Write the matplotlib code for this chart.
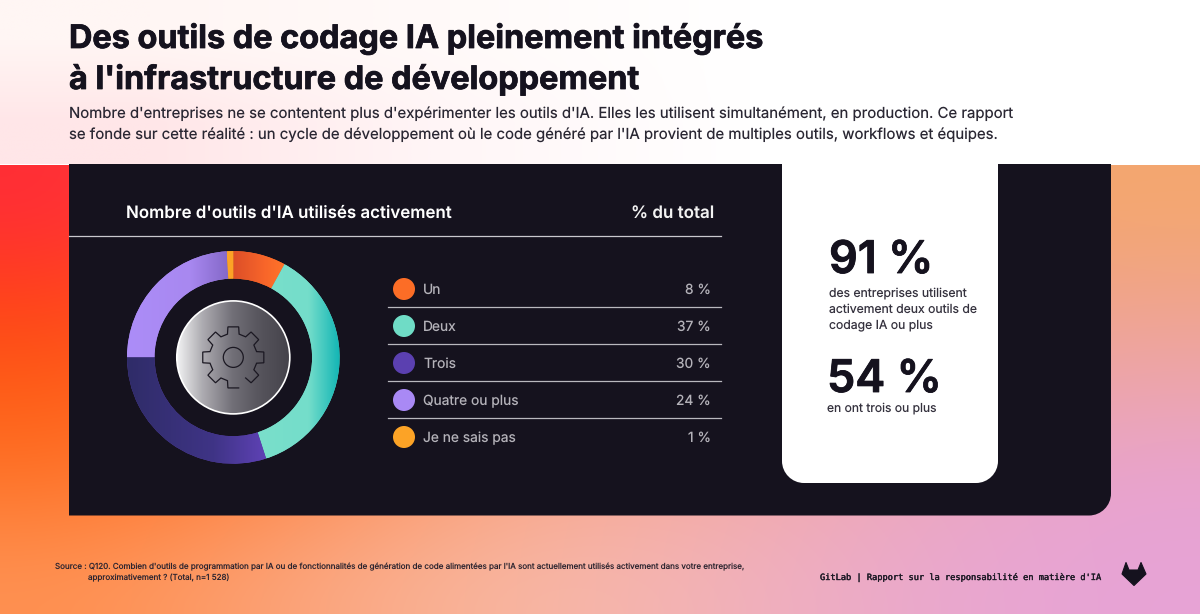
import numpy as np
import matplotlib
matplotlib.use("Agg")
import matplotlib.pyplot as plt
import matplotlib.patheffects as pe
from matplotlib.colors import LinearSegmentedColormap, to_rgb
from matplotlib.patches import Circle, PathPatch, Polygon
from matplotlib.path import Path

# Survey results
categories = ["Un", "Deux", "Trois", "Quatre ou plus", "Je ne sais pas"]
shares = [8, 37, 30, 24, 1]
swatches = ["#FC6D26", "#6FDCC6", "#5B40B0", "#A989F5", "#FCA326"]
ring_shades = [["#DC4E28", "#F8662A", "#FF7429"],
               ["#7ADFCB", "#74DDCA", "#12B5B5"],
               ["#2F2C68", "#3F3486", "#5F42B6"],
               ["#AC8DF8", "#A888F0", "#8468C8"],
               ["#FCA326", "#FCA326", "#FCA326"]]

title_lines = ["Des outils de codage IA pleinement intégrés",
               "à l'infrastructure de développement"]
intro_lines = ["Nombre d'entreprises ne se contentent plus d'expérimenter les outils d'IA. Elles les utilisent simultanément, en production. Ce rapport",
               "se fonde sur cette réalité : un cycle de développement où le code généré par l'IA provient de multiples outils, workflows et équipes."]
table_head = "Nombre d'outils d'IA utilisés activement"
table_unit = "% du total"
stat_one = "91 %"
stat_one_text = ["des entreprises utilisent", "activement deux outils de", "codage IA ou plus"]
stat_two = "54 %"
stat_two_text = "en ont trois ou plus"
source_lines = ["Source : Q120. Combien d'outils de programmation par IA ou de fonctionnalités de génération de code alimentées par l'IA sont actuellement utilisés activement dans votre entreprise,",
                "approximativement ? (Total, n=1\u00a0528)"]
brand_line = "GitLab | Rapport sur la responsabilité en matière d'IA"

INK = "#15121E"
W, H = 1200, 614
px = 0.72  # points per pixel at 100 dpi

plt.rcParams["font.family"] = ["Inter", "DejaVu Sans"]
plt.rcParams["text.hinting"] = "no_hinting"
plt.rcParams["text.hinting_factor"] = 1
fig = plt.figure(figsize=(W / 100, H / 100), dpi=100)
ax = fig.add_axes([0, 0, 1, 1])

# Page wash: coarse colour grid smoothed into a soft gradient
wash = np.array([[to_rgb(c) for c in row] for row in [
    ["#FF2C36", "#FF5A3C", "#FB8048", "#F79A5C", "#F5A468", "#F4A770"],
    ["#FF4118", "#FF6A38", "#FA8C5C", "#F79C74", "#F3A283", "#F0A48C"],
    ["#FF5C14", "#FF7C3C", "#FB9A70", "#F6A48C", "#F0A59E", "#ECA5B0"],
    ["#FF7428", "#FD8C50", "#F9A888", "#F4ABA4", "#ECA7BC", "#E8A3D0"],
    ["#FF9050", "#FBA47C", "#F9B8A0", "#F3B3B6", "#EAA9CC", "#E7A3D6"],
]])
ax.imshow(wash, extent=(0, W, H, 165), interpolation="bicubic", aspect="auto", zorder=0)

# Header band, fading from a blush at the left into white
band = np.array([[to_rgb(c) for c in row] for row in [
    ["#FFF6F4", "#FFFAF9", "#FFFFFF", "#FFFFFF"],
    ["#FFE6E8", "#FFF6F7", "#FFFFFF", "#FFFFFF"],
]])
ax.imshow(band, extent=(0, W, 164.5, 0), interpolation="bilinear", aspect="auto", zorder=5)
ax.set_xlim(0, W)
ax.set_ylim(H, 0)
ax.axis("off")


def panel(x0, x1, y0, y1, r_left, r_right, color, z):
    k = 0.45
    verts = [(x0, y0), (x1, y0), (x1, y1 - r_right), (x1, y1 - r_right * k), (x1 - r_right * k, y1),
             (x1 - r_right, y1), (x0 + r_left, y1), (x0 + r_left * k, y1), (x0, y1 - r_left * k),
             (x0, y1 - r_left), (x0, y0)]
    codes = [Path.MOVETO, Path.LINETO, Path.LINETO, Path.CURVE4, Path.CURVE4, Path.CURVE4,
             Path.LINETO, Path.CURVE4, Path.CURVE4, Path.CURVE4, Path.CLOSEPOLY]
    ax.add_patch(PathPatch(Path(verts, codes), fc=color, ec="none", zorder=z))


panel(69, 1111, 160, 515.5, 0.01, 22, INK, 2)
panel(782, 998, 160, 483, 22, 22, "white", 3)

# Headline and introduction
heavy = [pe.withStroke(linewidth=0.55, foreground=INK)]
for line, base in zip(title_lines, (48, 89)):
    ax.text(69, base, line, fontsize=32.4 * px, fontweight="bold", color=INK, va="baseline", zorder=6,
            path_effects=heavy)
for line, base in zip(intro_lines, (118, 139)):
    ax.text(69, base, line, fontsize=14.95 * px, color="#2A2733", va="baseline", zorder=6)

# Table header and rows
ax.text(126, 218, table_head, fontsize=16.9 * px, fontweight="semibold", color="white", va="baseline", zorder=6)
ax.text(714, 218, table_unit, fontsize=17 * px, fontweight="semibold", color="#F2F2F2", ha="right",
        va="baseline", zorder=6)
ax.plot([69, 721], [236.3, 236.3], color="#C9C8CE", lw=0.9, zorder=4)

row_y = [289 + 37 * i for i in range(len(categories))]
for i, (name, value, swatch, y) in enumerate(zip(categories, shares, swatches, row_y)):
    ax.add_patch(Circle((404, y), 11, fc=swatch, ec="none", zorder=4))
    ax.text(423, y + 5.3, name, fontsize=13.8 * px, color="#B4B2B9", va="baseline", zorder=6)
    ax.text(711, y + 5.3, f"{value} %", fontsize=13.8 * px, color="#B4B2B9", ha="right", va="baseline", zorder=6)
    if i < len(categories) - 1:
        ax.plot([388, 721], [y + 18, y + 18], color="#B9B8BE", lw=0.9, zorder=4)

# Key figures on the white card
ax.text(829, 273, stat_one, fontsize=45 * px, fontweight="semibold", color=INK, va="baseline", zorder=6,
        path_effects=[pe.withStroke(linewidth=0.6, foreground=INK)])
for line, base in zip(stat_one_text, (296.5, 312.5, 328.5)):
    ax.text(829, base, line, fontsize=12.2 * px, color="#35323E", va="baseline", zorder=6)
ax.text(827, 392, stat_two, fontsize=45 * px, fontweight="semibold", color=INK, va="baseline", zorder=6,
        path_effects=[pe.withStroke(linewidth=0.6, foreground=INK)])
ax.text(827, 412, stat_two_text, fontsize=12.1 * px, color="#35323E", va="baseline", zorder=6)

# Footer
ax.text(55, 569, source_lines[0], fontsize=8.05 * px, color="#2D2530", va="baseline", zorder=6)
ax.text(88, 580, source_lines[1], fontsize=8.05 * px, color="#2D2530", va="baseline", zorder=6)
ax.text(820, 580, brand_line, fontsize=8.65 * px, color="#1E1A26", family="DejaVu Sans Mono", va="baseline",
        zorder=6, path_effects=[pe.withStroke(linewidth=0.25, foreground="#1E1A26")])

# Brand mark
ax.add_patch(Polygon([(1126, 562.5), (1129, 570), (1138, 570), (1141, 562.5), (1146, 574),
                      (1134, 585.5), (1122, 574)],
                     closed=True, fc=INK, ec=INK, lw=0.8, joinstyle="round", zorder=6))

# Donut on its own axes, scaled in pixels around the ring centre
cx, cy, outer, inner = 233.3, 357.4, 106.3, 78.8
span = 110
don = fig.add_axes([(cx - span) / W, 1 - (cy + span) / H, 2 * span / W, 2 * span / H])
wedges, _ = don.pie(shares, radius=outer, startangle=90, counterclock=False, colors=swatches,
                    wedgeprops=dict(width=outer - inner, linewidth=0))
for wedge, stops in zip(wedges, ring_shades):
    bbox = wedge.get_path().get_extents(wedge.get_patch_transform())
    cmap = LinearSegmentedColormap.from_list("ring", list(zip((0, 0.62, 1), stops)))
    img = don.imshow(np.linspace(0, 1, 256)[None, :], cmap=cmap, aspect="auto",
                     extent=(bbox.x0, bbox.x1, bbox.y0, bbox.y1), zorder=3)
    img.set_clip_path(wedge)

# Centre disc with a metallic sweep and a white rim
steel = LinearSegmentedColormap.from_list("steel", [(0, "#F2F2F3"), (0.22, "#AEADB2"), (0.5, "#706E76"),
                                                    (0.75, "#55535B"), (1, "#45434B")])
rim = Circle((0, 0), 56.5, fc="#77757C", ec="none", zorder=4)
don.add_patch(rim)
disc = don.imshow(np.linspace(0, 1, 256)[None, :], cmap=steel, aspect="auto",
                  extent=(-56.5, 56.5, -56.5, 56.5), zorder=4)
disc.set_clip_path(rim)
don.add_patch(Circle((0, 0), 56.5, fc="none", ec="white", lw=1.2, zorder=5))

# Gear outline: eight teeth drawn anticlockwise, left open at the lower right
r_root, r_tip = 24, 31
pts = []
for centre in range(-45, 271, 45):
    for r, off in ((r_root, -14), (r_tip, -10), (r_tip, 10), (r_root, 14)):
        if centre == 270 and off == 14:
            continue
        a = np.deg2rad(centre + off)
        pts.append((r * np.cos(a), r * np.sin(a)))
gear = np.array(pts)
don.plot(gear[:, 0], gear[:, 1], color="#1B1822", lw=0.9, zorder=6, solid_joinstyle="miter")
don.add_patch(Circle((0, 0), 10, fc="none", ec="#1B1822", lw=0.9, zorder=6))

don.set_xlim(-span, span)
don.set_ylim(-span, span)
don.axis("off")
don.patch.set_alpha(0)

fig.savefig("out.png", dpi=100)
